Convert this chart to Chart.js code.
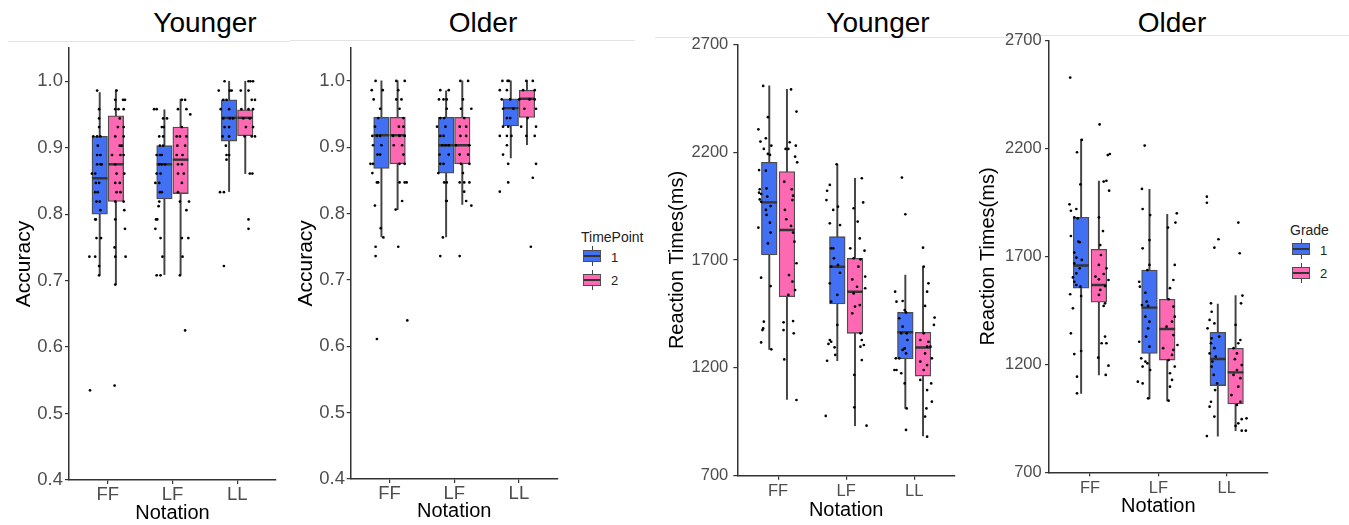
<!DOCTYPE html>
<html>
<head>
<meta charset="utf-8">
<script src="https://cdn.jsdelivr.net/npm/chart.js@4.4.1/dist/chart.umd.min.js"></script>
<style>
body{margin:0;background:#fff;width:1349px;height:525px;overflow:hidden;position:relative;font-family:"Liberation Sans",Arial,sans-serif;}
canvas{position:absolute;top:0;}
.ttl{position:absolute;top:9px;font-size:28px;line-height:28px;color:#000;transform:translateX(-50%);white-space:nowrap;}
.rule{position:absolute;height:1px;background:#e3e3e3;}
.legTitle{position:absolute;font-size:14px;line-height:14px;color:#222;white-space:nowrap;}
.legLab{position:absolute;font-size:13px;line-height:13px;color:#222;}
.whisk{position:absolute;width:1px;background:#444;}
.key{position:absolute;width:18px;height:12px;box-sizing:border-box;border:1.2px solid #4d4d4d;}
.key div{position:absolute;left:0;right:0;top:4px;height:2px;background:#333;}
</style>
</head>
<body>
<div class="rule" style="left:8px;top:41px;width:282px"></div>
<div class="rule" style="left:290px;top:40px;width:345px"></div>
<div class="rule" style="left:655px;top:37px;width:380px"></div>
<div class="rule" style="left:1035px;top:35px;width:314px"></div>
<div class="ttl" style="left:205px">Younger</div>
<div class="ttl" style="left:483px">Older</div>
<div class="ttl" style="left:878px">Younger</div>
<div class="ttl" style="left:1172px">Older</div>
<canvas id="c1"></canvas>
<canvas id="c2"></canvas>
<canvas id="c3"></canvas>
<canvas id="c4"></canvas>
<div id="legends"></div>
<script>
const notation = ['FF', 'LF', 'LL'];
const accTicks = [0.4, 0.5, 0.6, 0.7, 0.8, 0.9, 1.0];
const rtTicks = [700, 1200, 1700, 2200, 2700];

// box summaries per notation: [lower whisker, q1, median, q3, upper whisker]
const youngAccBox1 = [[.709,.800,.854,.917,.983],[.709,.823,.875,.903,.957],[.834,.910,.945,.972,1.0]];
const youngAccBox2 = [[.694,.819,.875,.948,.987],[.709,.831,.882,.931,.973],[.861,.918,.945,.957,1.0]];
const oldAccBox1 = [[.765,.868,.918,.945,1.0],[.765,.861,.903,.945,.985],[.884,.932,.959,.973,1.0]];
const oldAccBox2 = [[.806,.875,.918,.945,1.0],[.814,.875,.903,.945,1.0],[.904,.945,.973,.986,1.0]];
const youngRtBox1 = [[1286,1723,1967,2153,2507],[1233,1496,1669,1808,2144],[1012,1241,1365,1457,1630]];
const youngRtBox2 = [[1054,1530,1839,2110,2491],[932,1360,1553,1708,2079],[884,1162,1294,1365,1669]];
const oldRtBox1 = [[1066,1553,1658,1882,2243],[1040,1251,1463,1637,2011],[868,1102,1225,1349,1480]];
const oldRtBox2 = [[1151,1488,1568,1733,2050],[1031,1220,1364,1502,1895],[893,1017,1163,1275,1519]];

// individual subjects (values) and their jitter (in notation units)
const youngAccPts1 = [
  [.986,.958,.944,.931,.917,.917,.917,.903,.889,.889,.875,.875,.875,.861,.861,.847,.847,.833,.833,.819,.819,.806,.792,.792,.764,.764,.736,.736,.722,.708,.535],
  [.958,.958,.944,.944,.931,.931,.917,.917,.903,.903,.889,.889,.889,.875,.875,.875,.861,.861,.847,.847,.833,.833,.819,.812,.792,.792,.778,.764,.736,.708,.708],
  [.986,1.0,.986,.986,.972,.972,.958,.958,.944,.944,.944,.931,.931,.917,.917,.903,.889,.889,.882,.833,.833,.722]];
const youngAccJit1 = [
  [-.04,-.01,-.01,-.01,-.10,-.04,.01,-.03,-.04,.01,-.04,.01,.03,-.12,-.07,-.06,-.01,-.07,-.03,-.05,0,.01,-.07,-.06,-.05,.02,-.16,-.07,-.01,-.01,-.15],
  [-.16,-.12,-.02,.04,-.04,-.01,-.08,-.02,-.07,-.02,-.12,-.07,-.04,-.08,-.04,.01,-.12,-.06,-.14,-.08,-.07,-.04,-.08,-.09,-.13,-.11,-.14,-.06,-.03,-.12,-.06],
  [-.16,-.07,.01,.04,-.09,-.04,-.13,0,-.09,.01,.06,-.07,0,-.10,0,-.05,-.04,0,-.04,-.14,-.08,-.08]];
const youngAccPts2 = [
  [.986,.972,.972,.972,.958,.958,.958,.944,.931,.931,.917,.917,.903,.903,.889,.889,.889,.875,.861,.861,.847,.847,.833,.833,.819,.819,.806,.792,.778,.750,.736,.736,.694,.542],
  [.972,.972,.958,.958,.950,.931,.917,.917,.917,.903,.903,.889,.889,.875,.875,.861,.861,.847,.833,.819,.819,.806,.764,.764,.736,.708,.625],
  [1.0,1.0,1.0,.986,.986,.972,.972,.958,.958,.958,.944,.944,.931,.931,.917,.917,.917,.861,.861,.792,.778]];
const youngAccJit2 = [
  [.01,-.01,.11,.14,-.01,.04,.12,.06,.03,.12,-.01,.12,.06,.09,-.06,.07,.12,-.01,.01,.13,-.01,.06,.01,.07,-.01,.12,.13,-.01,.14,-.02,-.01,.15,-.01,-.02],
  [.02,.07,-.04,.09,.15,.02,-.06,-.01,.09,-.05,.07,-.06,.03,-.04,.02,-.04,.05,.02,-.04,.13,-.01,.09,.02,.12,.03,-.01,.07],
  [.05,.08,.12,-.07,.05,.10,.15,-.06,.05,.12,-.03,.07,.01,.12,-.01,.10,.15,.07,.11,.05,.05]];

const oldAccPts1 = [
  [1.0,.986,.986,.972,.958,.944,.931,.917,.917,.917,.903,.903,.889,.889,.875,.875,.861,.847,.847,.812,.778,.764,.750,.736,.611],
  [.986,.986,.972,.972,.972,.958,.944,.944,.931,.931,.917,.917,.903,.903,.903,.889,.889,.875,.875,.861,.847,.847,.819,.819,.764,.736],
  [1.0,1.0,1.0,.986,.986,.972,.972,.958,.958,.944,.944,.931,.931,.917,.917,.917,.903,.889,.875,.847,.833]];
const oldAccJit1 = [
  [-.09,-.15,.02,-.12,-.02,-.05,-.10,-.14,-.07,-.02,0,-.13,-.06,-.02,-.17,-.13,-.14,-.07,-.05,-.10,-.01,.03,-.09,-.09,-.07],
  [-.09,.04,-.11,-.04,.01,.01,-.09,-.03,-.14,-.01,-.09,-.04,-.01,-.06,.04,-.10,.04,-.09,-.04,-.12,-.03,.01,.01,0,-.05,-.09],
  [-.13,-.05,-.03,-.17,-.06,-.14,-.01,-.12,.04,-.06,-.01,-.12,-.04,-.17,-.06,.01,-.06,-.12,-.04,-.04,-.17]];
const oldAccPts2 = [
  [1.0,1.0,.986,.972,.972,.958,.944,.931,.931,.917,.917,.917,.903,.903,.889,.875,.875,.847,.847,.847,.819,.806,.750,.639],
  [1.0,1.0,.972,.958,.958,.944,.931,.931,.917,.917,.903,.903,.889,.889,.875,.875,.861,.847,.847,.847,.833,.819,.812,.736],
  [1.0,1.0,.986,.986,.972,.972,.972,.958,.958,.944,.931,.931,.917,.917,.875,.854,.750]];
const oldAccJit2 = [
  [-.02,.11,.01,-.02,.06,.03,.09,.02,.09,.11,-.07,.03,.07,-.06,.09,.03,.11,.03,.11,.14,.07,-.03,.01,.15],
  [-.03,.09,.01,-.02,.14,.03,-.04,.06,-.03,.06,-.10,.11,-.04,.09,-.02,.11,.01,-.04,.03,.11,.03,.06,.14,-.04],
  [-.01,.09,-.06,.12,-.12,.04,.12,-.04,.14,.01,-.09,.14,-.01,.12,.14,.09,.06]];

const youngRtPts1 = [
  [2507,2362,2306,2264,2249,2230,2215,2192,2187,2117,2114,2028,2012,2006,2032,1994,1981,1970,1950,1932,1909,1873,1850,1827,1777,1618,1579,1414,1383,1375,1318,1286],
  [2144,2048,2021,1978,1947,1932,1870,1862,1754,1754,1708,1669,1677,1641,1592,1538,1507,1399,1329,1321,1311,1295,1260,1233,977],
  [2082,1912,1553,1510,1507,1468,1457,1430,1391,1360,1360,1329,1290,1283,1267,1244,1244,1190,1190,1175,1128,1012,912]];
const youngRtJit1 = [
  [-.09,-.02,-.16,-.05,-.13,.03,-.08,-.02,.01,-.15,-.05,-.14,-.15,-.12,-.04,-.03,-.14,-.12,.02,-.05,-.04,.01,-.16,.02,-.02,-.12,.02,-.08,-.09,-.10,-.12,.03],
  [-.01,-.11,-.15,-.16,.01,-.06,-.11,.04,-.09,-.06,-.05,-.09,.01,.04,-.11,0,-.09,0,-.11,-.09,-.13,-.04,-.03,-.15,-.17],
  [-.05,0,-.15,-.04,-.13,-.01,.01,-.09,-.04,.02,-.06,.03,-.01,-.04,.01,-.14,-.09,-.16,-.13,-.06,-.01,.02,.01]];
const youngRtPts2 = [
  [2491,2388,2215,2246,2215,2230,2179,2153,2063,2028,1998,1978,1932,1889,1858,1827,1785,1685,1630,1600,1561,1538,1411,1417,1375,1360,1239,1051],
  [2079,1940,1967,1878,1800,1754,1743,1708,1703,1669,1623,1610,1576,1569,1545,1491,1484,1453,1360,1329,1306,1298,1236,1167,1017,932],
  [1757,1669,1592,1553,1487,1433,1399,1360,1329,1321,1298,1298,1267,1244,1229,1213,1190,1144,1128,1097,1043,1012,974,881]];
const youngRtJit2 = [
  [.06,.14,-.02,.04,.02,.13,.12,.15,-.04,.07,.09,.08,-.03,-.01,.06,.09,.11,.14,.03,.08,.12,.02,-.05,.09,-.05,.10,-.04,.14],
  [.10,-.02,.12,.04,.07,-.07,.14,-.02,.08,.05,.15,-.04,.03,.15,-.02,.07,0,-.04,.08,.10,.13,.08,.10,-.01,-.01,.17],
  [0,.01,.08,.06,.03,.17,.16,.01,-.04,.08,.06,.11,.03,.13,-.04,.06,.01,-.04,.12,.06,.13,.05,.03,.06]];

const oldRtPts1 = [
  [2529,2240,2183,2034,1942,1920,1912,1881,1877,1795,1769,1766,1718,1695,1684,1668,1645,1622,1603,1583,1568,1560,1525,1517,1460,1344,1262,1248,1143,1066],
  [2214,2013,1920,1892,1776,1738,1661,1637,1583,1560,1532,1491,1475,1471,1421,1398,1367,1329,1305,1282,1228,1213,1205,1190,1174,1120,1112,1043],
  [1977,1949,1780,1741,1483,1444,1406,1390,1367,1329,1321,1298,1275,1251,1236,1213,1190,1151,1112,1081,1027,1004,958,868]];
const oldRtJit1 = [
  [-.16,.01,-.06,-.01,-.17,-.07,-.15,-.10,-.05,-.15,-.04,-.02,-.10,-.07,.01,-.10,-.02,-.07,-.12,-.10,-.07,-.01,-.16,0,-.12,-.15,0,-.10,-.06,-.06],
  [-.07,-.11,-.10,.01,0,-.10,0,-.03,-.15,-.14,-.06,-.04,-.11,-.02,-.06,0,-.02,-.05,-.15,0,-.12,-.06,-.03,-.10,.01,-.17,-.10,-.02],
  [-.16,-.16,.01,-.05,-.10,-.09,-.12,-.05,-.15,.02,-.09,-.10,-.05,-.12,-.03,-.08,-.09,-.06,-.01,-.04,-.10,-.12,-.05,-.16]];
const oldRtPts2 = [
  [2312,2175,2170,2051,2047,2005,1881,1818,1753,1707,1661,1645,1619,1607,1594,1591,1563,1545,1522,1483,1471,1298,1329,1298,1231,1194,1151],
  [1900,1857,1834,1661,1591,1553,1502,1468,1421,1398,1375,1336,1290,1275,1267,1244,1220,1190,1159,1128,1097,1032],
  [1857,1715,1519,1483,1383,1313,1298,1275,1251,1224,1197,1174,1151,1136,1097,1058,1027,1012,950,946,927,915,893,893]];
const oldRtJit2 = [
  [.01,.16,.13,.11,.07,.15,0,.06,.02,.03,0,.11,.07,-.05,0,.14,.09,.02,0,.09,.07,.04,.09,.11,-.01,.14,.10],
  [.14,.12,.01,.11,.09,.04,.02,.09,.11,.07,-.01,.09,.15,-.06,.09,.07,.02,.11,.04,.07,.04,.02],
  [.04,.06,.10,.08,0,.07,.04,-.03,.02,-.01,.09,.02,-.03,.07,.04,-.06,.07,.02,.16,.09,.04,0,.09,.15]];

const BLUE = '#4270f4';
const PINK = '#ff69b4';
const FAMILY = '"Liberation Sans", Arial, sans-serif';
Chart.defaults.font.family = FAMILY;

function makePanel(id, left, width, o) {
  const cv = document.getElementById(id);
  cv.width = width;
  cv.height = 525;
  cv.style.left = left + 'px';

  const datasets = [];
  [0, 1].forEach(s => {
    const dx = s ? o.dodge : -o.dodge;
    const col = s ? PINK : BLUE;
    const boxes = o.boxes[s];
    // whiskers (thin floating bars behind the box)
    datasets.push({
      type: 'bar', order: 4,
      data: boxes.map((b, i) => ({x: i + 1 + dx, y: [b[0], b[4]]})),
      backgroundColor: '#444', borderWidth: 0, maxBarThickness: 1.3
    });
    // interquartile box
    datasets.push({
      type: 'bar', order: 3,
      data: boxes.map((b, i) => ({x: i + 1 + dx, y: [b[1], b[3]]})),
      backgroundColor: col, borderColor: '#4d4d4d', borderWidth: 1.3,
      borderSkipped: false, maxBarThickness: o.boxW
    });
    // median
    datasets.push({
      type: 'scatter', order: 2,
      data: boxes.map((b, i) => ({x: i + 1 + dx, y: b[2]})),
      pointStyle: 'line', pointRadius: o.boxW / 2,
      pointBorderColor: '#333', pointBorderWidth: 2.4, borderColor: '#333'
    });
    // subjects
    const pts = [];
    o.pts[s].forEach((arr, i) => {
      arr.forEach((v, k) => pts.push({x: i + 1 + dx + o.jit[s][i][k], y: v}));
    });
    datasets.push({
      type: 'scatter', order: 1, data: pts,
      pointRadius: 1.35, pointBackgroundColor: '#000', pointBorderWidth: 0
    });
  });

  return new Chart(cv, {
    type: 'bar',
    data: {datasets: datasets},
    options: {
      responsive: false,
      animation: false,
      devicePixelRatio: 1,
      layout: {padding: {top: o.top, right: o.padR, bottom: 0, left: 0}},
      plugins: {legend: {display: false}, tooltip: {enabled: false}},
      datasets: {bar: {grouped: false, barPercentage: 1, categoryPercentage: 1}},
      scales: {
        x: {
          type: 'linear', min: 0.4, max: 3.6, offset: false,
          afterBuildTicks: sc => { sc.ticks = [1, 2, 3].map(v => ({value: v})); },
          afterFit: sc => { sc.height = o.xh; },
          ticks: {
            callback: v => notation[v - 1],
            color: '#4d4d4d', font: {size: o.tick}, padding: o.xpad,
            autoSkip: false, maxRotation: 0
          },
          grid: {drawOnChartArea: false, drawTicks: true, tickLength: 4, color: '#333', lineWidth: 1.2, offset: false},
          border: {display: true, color: '#333', width: 1.5},
          title: {display: true, text: 'Notation', color: '#000', font: {size: 20}, padding: {top: 0, bottom: o.xtp}}
        },
        y: {
          type: 'linear', min: o.ymin, max: o.ymax,
          afterBuildTicks: sc => { sc.ticks = o.yticks.map(v => ({value: v})); },
          afterFit: sc => { sc.width = o.yw; },
          ticks: {callback: o.fmt, color: '#4d4d4d', font: {size: o.tick}, padding: o.ypad},
          grid: {drawOnChartArea: false, drawTicks: true, tickLength: 4, color: '#333', lineWidth: 1.2},
          border: {display: true, color: '#333', width: 1.5},
          title: {display: true, text: o.ytitle, color: '#000', font: {size: o.ytSize}, padding: {top: o.ytp, bottom: 0}}
        }
      }
    }
  });
}

const accFmt = v => v.toFixed(1);
const rtFmt = v => String(v);

makePanel('c1', 0, 290, {
  boxes: [youngAccBox1, youngAccBox2], pts: [youngAccPts1, youngAccPts2], jit: [youngAccJit1, youngAccJit2],
  ymin: 0.4, ymax: 1.05, yticks: accTicks, fmt: accFmt, ytitle: 'Accuracy', ytSize: 21,
  dodge: 0.125, boxW: 15.5, tick: 18.5, top: 48, padR: 14, yw: 69, xh: 45,
  xpad: 0, ypad: 2, ytp: 11.4, xtp: 0
});
makePanel('c2', 290, 280, {
  boxes: [oldAccBox1, oldAccBox2], pts: [oldAccPts1, oldAccPts2], jit: [oldAccJit1, oldAccJit2],
  ymin: 0.4, ymax: 1.05, yticks: accTicks, fmt: accFmt, ytitle: 'Accuracy', ytSize: 21,
  dodge: 0.125, boxW: 15.5, tick: 18.5, top: 47.7, padR: 12.3, yw: 60.7, xh: 46,
  xpad: 0, ypad: 1.7, ytp: 3.2, xtp: 1.3
});
makePanel('c3', 650, 320, {
  boxes: [youngRtBox1, youngRtBox2], pts: [youngRtPts1, youngRtPts2], jit: [youngRtJit1, youngRtJit2],
  ymin: 700, ymax: 2700, yticks: rtTicks, fmt: rtFmt, ytitle: 'Reaction Times(ms)', ytSize: 20,
  dodge: 0.13, boxW: 15.7, tick: 16.5, top: 44.3, padR: 15, yw: 87.3, xh: 49.3,
  xpad: 2, ypad: 5, ytp: 15.2, xtp: 3
});
makePanel('c4', 970, 310, {
  boxes: [oldRtBox1, oldRtBox2], pts: [oldRtPts1, oldRtPts2], jit: [oldRtJit1, oldRtJit2],
  ymin: 700, ymax: 2700, yticks: rtTicks, fmt: rtFmt, ytitle: 'Reaction Times(ms)', ytSize: 20,
  dodge: 0.13, boxW: 15.7, tick: 16.5, top: 40.7, padR: 12.3, yw: 79, xh: 52.7,
  xpad: 2, ypad: 3.3, ytp: 6.8, xtp: 6.3
});

// legends (ggplot style boxplot keys)
const legendHost = document.getElementById('legends');
function addLegend(title, x, y, labels) {
  let html = '<div class="legTitle" style="left:' + x + 'px;top:' + y + 'px">' + title + '</div>';
  labels.forEach((lab, i) => {
    const ky = y + 20 + i * 23.5;
    const col = i ? PINK : BLUE;
    html += '<div class="whisk" style="left:' + (x + 10.5) + 'px;top:' + (ky - 4) + 'px;height:' + 20 + 'px"></div>';
    html += '<div class="key" style="left:' + (x + 1.7) + 'px;top:' + ky + 'px;background:' + col + '"><div></div></div>';
    html += '<div class="legLab" style="left:' + (x + 30) + 'px;top:' + (ky + 0.5) + 'px">' + lab + '</div>';
  });
  legendHost.insertAdjacentHTML('beforeend', html);
}
addLegend('TimePoint', 581, 230, ['1', '2']);
addLegend('Grade', 1290, 223, ['1', '2']);
</script>
</body>
</html>
